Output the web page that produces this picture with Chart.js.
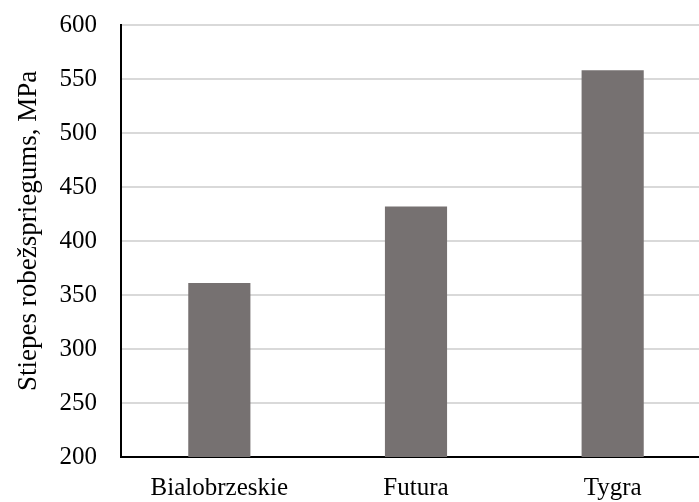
<!DOCTYPE html>
<html>
<head>
<meta charset="utf-8">
<script src="https://cdn.jsdelivr.net/npm/chart.js@4/dist/chart.umd.min.js"></script>
<style>
  body { margin: 0; overflow: hidden; background: #fff; }
  #wrap { width: 711px; height: 502px; }
</style>
</head>
<body>
<div id="wrap"><canvas id="barChart"></canvas></div>
<script>
  // chart data
  var categories = ["Bialobrzeskie", "Futura", "Tygra"];
  var values = [361, 432, 558];
  var yMin = 200;
  var yMax = 600;
  var yStep = 50;
  var yTitle = "Stiepes robežspriegums, MPa";

  var serif = "'Liberation Serif', 'Times New Roman', serif";

  var ctx = document.getElementById("barChart").getContext('2d');
  var myBarChart = new Chart(ctx, {
    type: 'bar',
    data: {
      labels: categories,
      datasets: [{
        data: values,
        backgroundColor: "#767171",
        categoryPercentage: 1,
        barPercentage: 0.316
      }]
    },
    options: {
      responsive: true,
      maintainAspectRatio: false,
      animation: false,
      layout: { padding: { top: 25, left: 13, right: 0, bottom: 0 } },
      plugins: {
        legend: { display: false },
        tooltip: { enabled: false }
      },
      scales: {
        x: {
          grid: { display: false, drawTicks: false },
          border: { color: "#000", width: 2 },
          ticks: { color: "#000", font: { family: serif, size: 25 }, padding: 16 },
          // fixed box so the plot lines up with the original
          afterFit: function (scale) {
            scale.height = 45;
            scale.paddingLeft = 0;
            scale.paddingRight = 0;
          }
        },
        y: {
          min: yMin,
          max: yMax,
          ticks: { stepSize: yStep, color: "#000", font: { family: serif, size: 25 }, padding: 24 },
          grid: { color: "#d9d9d9", lineWidth: 2, drawTicks: false },
          border: { color: "#000", width: 2 },
          title: {
            display: true,
            // leading spaces nudge the rotated title up a bit, like the original
            text: "\u00a0\u00a0\u00a0" + yTitle,
            color: "#000",
            font: { family: serif, size: 27 },
            padding: { top: 0, bottom: 16 }
          },
          afterFit: function (scale) {
            scale.width = 108;
            scale.paddingTop = 0;
            scale.paddingBottom = 0;
          }
        }
      }
    }
  });
</script>
</body>
</html>
